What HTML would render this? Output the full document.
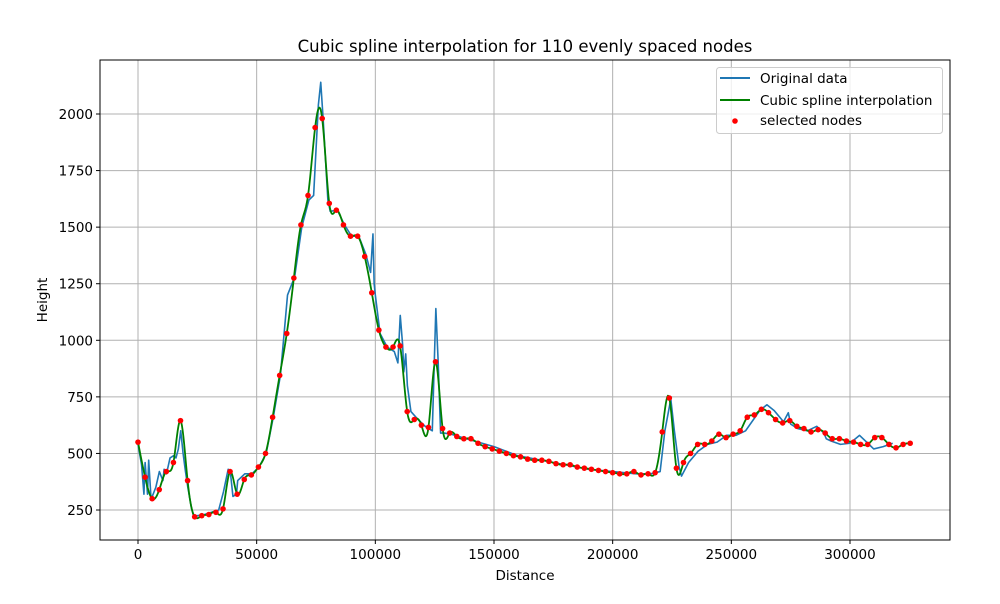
<!DOCTYPE html>
<html><head><meta charset="utf-8"><style>
body{margin:0;background:#fff;font-family:"DejaVu Sans","Liberation Sans",sans-serif}
svg text{font-family:"DejaVu Sans","Liberation Sans",sans-serif;fill:#000}
</style></head><body>
<svg id="chart" width="1000" height="600" viewBox="0 0 1000 600">
<rect width="1000" height="600" fill="#fff"/>
<g id="grid"></g>
<g id="ticks"></g>
<g id="plot"></g>
<rect x="100" y="60" width="850" height="480" fill="none" stroke="#000" stroke-width="1"/>
<text x="525" y="52" text-anchor="middle" font-size="16.5">Cubic spline interpolation for 110 evenly spaced nodes</text>
<text x="525" y="580" text-anchor="middle" font-size="13.5">Distance</text>
<text x="47" y="300" text-anchor="middle" font-size="13.5" transform="rotate(-90 47 300)">Height</text>
<g>
<rect x="716.5" y="67.5" width="226" height="66" rx="3" fill="#fff" fill-opacity="0.8" stroke="#ccc"/>
<line x1="720" y1="78" x2="750" y2="78" stroke="#1f77b4" stroke-width="2"/>
<text x="760" y="83" font-size="13.5">Original data</text>
<line x1="720" y1="100" x2="750" y2="100" stroke="#008000" stroke-width="2"/>
<text x="760" y="105" font-size="13.5">Cubic spline interpolation</text>
<circle cx="735" cy="121" r="2.8" fill="red"/>
<text x="760" y="125" font-size="13.5">selected nodes</text>
</g>
</svg>
<script>
const nodeStep = 2985;
const nodeHeights = [550,395,300,340,420,460,645,380,220,225,230,240,255,420,320,385,405,440,500,660,
845,1030,1275,1510,1640,1940,1980,1605,1575,1510,1460,1460,1370,1210,1045,970,970,975,685,650,
625,615,905,610,590,575,565,565,545,530,520,510,500,490,485,475,470,470,465,455,
450,450,440,435,430,425,420,415,410,410,420,405,410,415,595,745,435,460,500,540,
540,555,585,570,585,600,660,670,695,680,650,635,645,620,610,595,605,590,565,565,
555,550,540,540,570,570,540,525,540,545];
const origX = [0,1500,2500,3000,4000,4500,5500,6000,7500,9000,10500,11000,12000,13500,15000,16000,17000,18000,19000,20000,21000,22500,23500,25000,28000,31000,34000,36000,38000,39000,40000,41500,42000,45000,48000,51000,54000,57000,60000,63000,66000,69000,72000,74000,76000,77000,78000,80000,81000,84000,87000,90000,93000,96000,98000,99000,99500,100000,102000,105000,108000,109500,110500,111500,112000,112800,113500,115000,118000,121000,124000,125500,126500,127500,129000,132000,140000,150000,160000,170000,180000,190000,200000,210000,216000,220000,222000,224500,226000,228000,229000,232000,236000,240000,244000,248000,252000,256000,260000,262000,265000,268000,272000,274000,275000,278000,282000,286000,289000,290000,292000,296000,300000,304000,308000,310000,314000,318000,322000,325000];
const origY = [540,450,320,460,320,470,300,310,350,420,380,430,410,480,490,480,520,600,500,420,350,260,220,225,230,240,250,330,430,410,310,320,380,410,410,440,500,660,845,1200,1280,1500,1620,1640,2040,2140,1980,1620,1570,1575,1510,1460,1460,1380,1300,1470,1250,1200,1030,970,950,900,1110,980,860,940,800,685,650,620,600,1140,900,590,590,585,560,530,490,470,450,430,420,410,410,420,600,740,600,440,400,460,510,540,550,580,580,600,660,690,715,690,640,680,630,610,600,620,590,565,555,540,545,580,540,520,530,545];
const xTicks = [0,50000,100000,150000,200000,250000,300000];
const yTicks = [250,500,750,1000,1250,1500,1750,2000];

const X0=100,X1=950,Y0=60,Y1=540;
const xMin=-16011,xMax=342139,yMin=117.5,yMax=2238.6;
const sx=v=>X0+(v-xMin)/(xMax-xMin)*(X1-X0);
const sy=v=>Y1-(v-yMin)/(yMax-yMin)*(Y1-Y0);
const NS="http://www.w3.org/2000/svg";
function mk(tag,attrs,parent){const e=document.createElementNS(NS,tag);for(const k in attrs)e.setAttribute(k,attrs[k]);parent.appendChild(e);return e;}
const grid=document.getElementById('grid'),ticks=document.getElementById('ticks'),plot=document.getElementById('plot');
xTicks.forEach(t=>{const x=sx(t);
 const g=mk('line',{x1:x,x2:x,y1:Y0,y2:Y1,stroke:'#b0b0b0','stroke-width':1},grid);
 
 
 const tk=mk('line',{x1:x,x2:x,y1:Y1,y2:Y1+4,stroke:'#000'},ticks);
 
 
 const tx=mk('text',{x:x,y:Y1+19,'text-anchor':'middle','font-size':13.5},ticks);tx.textContent=t;
 
 
});
yTicks.forEach(t=>{const y=sy(t);
 const g=mk('line',{x1:X0,x2:X1,y1:y,y2:y,stroke:'#b0b0b0','stroke-width':1},grid);
 
 
 const tk=mk('line',{x1:X0-4,x2:X0,y1:y,y2:y,stroke:'#000'},ticks);
 
 
 const tx=mk('text',{x:X0-7,y:y+5,'text-anchor':'end','font-size':13.5},ticks);tx.textContent=t;
 
 
});
let d=origX.map((x,i)=>(i?'L':'M')+sx(x).toFixed(2)+' '+sy(origY[i]).toFixed(2)).join(' ');
const po=mk('path',{d:d,fill:'none',stroke:'#1f77b4','stroke-width':1.6,'stroke-linejoin':'round'},plot);


const n=nodeHeights.length,nx=nodeHeights.map((_,i)=>i*nodeStep),h=nodeStep;
const M=new Array(n).fill(0);
{const a=[],b=[],c=[],r=[];
 for(let i=1;i<n-1;i++){a.push(h);b.push(4*h);c.push(h);r.push(6*(nodeHeights[i+1]-2*nodeHeights[i]+nodeHeights[i-1])/h);}
 const m=r.length;for(let i=1;i<m;i++){const w=a[i]/b[i-1];b[i]-=w*c[i-1];r[i]-=w*r[i-1];}
 const s=new Array(m);s[m-1]=r[m-1]/b[m-1];for(let i=m-2;i>=0;i--)s[i]=(r[i]-c[i]*s[i+1])/b[i];
 for(let i=0;i<m;i++)M[i+1]=s[i];}
let pts=[];
for(let i=0;i<n-1;i++){for(let k=0;k<10;k++){const t=k/10,x=nx[i]+t*h,A=1-t,B=t;
 const y=A*nodeHeights[i]+B*nodeHeights[i+1]+((A*A*A-A)*M[i]+(B*B*B-B)*M[i+1])*h*h/6;pts.push([x,y]);}}
pts.push([nx[n-1],nodeHeights[n-1]]);
d=pts.map((p,i)=>(i?'L':'M')+sx(p[0]).toFixed(2)+' '+sy(p[1]).toFixed(2)).join(' ');
const ps=mk('path',{d:d,fill:'none',stroke:'#008000','stroke-width':1.8,'stroke-linejoin':'round'},plot);


nodeHeights.forEach((v,i)=>{const c=mk('circle',{cx:sx(nx[i]),cy:sy(v),r:2.8,fill:'red'},plot);
 
 });
</script>
</body></html>
